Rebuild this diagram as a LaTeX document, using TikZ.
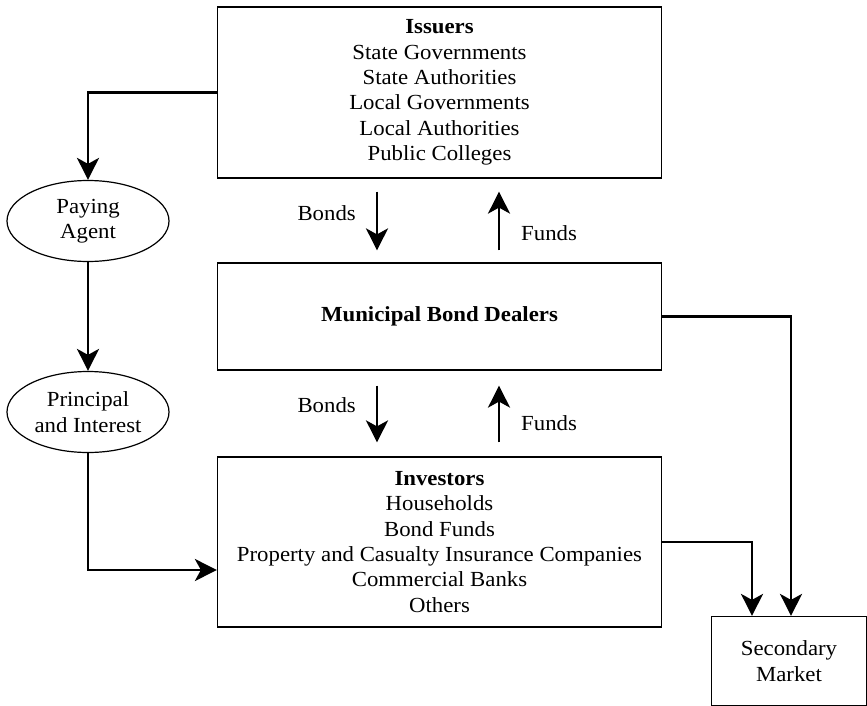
\documentclass[tikz,border=0pt]{standalone}
\usepackage{fontspec}
\setmainfont{Liberation Serif}[FakeStretch=1.06]
\usetikzlibrary{arrows.meta,calc,shapes.geometric}
\begin{document}
\begin{tikzpicture}[x=1pt,y=-1pt,
  every node/.style={font=\fontsize{21.5}{25.3}\selectfont},
  box/.style={draw,line width=1.2pt,rectangle,align=center,inner sep=0pt},
  oval/.style={draw,line width=1.2pt,ellipse,align=center,inner sep=0pt,minimum width=162pt,minimum height=81pt},
  flow/.style={line width=2.5pt,-{Stealth[length=22pt,width=22pt,inset=6pt]}},
  lbl/.style={inner sep=0pt}]
\useasboundingbox (0,0) rectangle (867,706);
\node[box,minimum width=444pt,minimum height=171pt] (iss) at (439.5,92.5)
  {\textbf{Issuers}\\State Governments\\State Authorities\\Local Governments\\Local Authorities\\Public Colleges};
\node[box,minimum width=444pt,minimum height=107pt] (mun) at (439.5,316.5)
  {\textbf{Municipal Bond Dealers}};
\node[box,minimum width=444pt,minimum height=170pt] (inv) at (439.5,542)
  {\textbf{Investors}\\Households\\Bond Funds\\Property and Casualty Insurance Companies\\Commercial Banks\\Others};
\node[box,minimum width=155pt,minimum height=89pt] (sec) at (789,661)
  {Secondary\\Market};
\node[oval] (pay) at (88,221) {Paying\\Agent};
\node[oval] (pri) at (88,412) {Principal\\and Interest};
% left chain
\draw[flow] (iss.west) -| (pay.north);
\draw[flow] (pay.south) -- (pri.north);
\draw[flow] (pri.south) |- ([yshift=-28pt]inv.west);
% to secondary market
\draw[flow] (mun.east) -| ([xshift=2pt]sec.north);
\draw[flow] (inv.east) -| ([xshift=-37pt]sec.north);
% middle flows
\draw[flow] ($(iss.south)+(-62.5,13)$) -- ($(mun.north)+(-62.5,-12)$);
\draw[flow] ($(mun.north)+(59.5,-12)$) -- ($(iss.south)+(59.5,13)$);
\draw[flow] ($(mun.south)+(-62.5,15)$) -- ($(inv.north)+(-62.5,-14)$);
\draw[flow] ($(inv.north)+(59.5,-14)$) -- ($(mun.south)+(59.5,15)$);
\node[lbl,anchor=east] (b1) at (356,213) {Bonds};
\node[lbl,anchor=west] (f1) at (521,233) {Funds};
\node[lbl,anchor=east] (b2) at (356,405) {Bonds};
\node[lbl,anchor=west] (f2) at (521,423) {Funds};
\end{tikzpicture}
\end{document}
